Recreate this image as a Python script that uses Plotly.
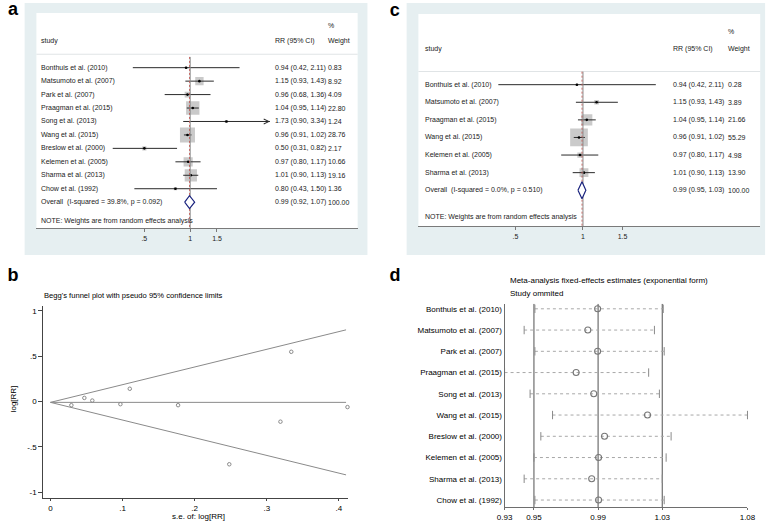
import math
import plotly.graph_objects as go

W, H = 778, 522
FONT = "Arial, 'Liberation Sans', sans-serif"

# ---------------- data ----------------
# panel a: forest plot (all studies)
studies_a = ["Bonthuis et al. (2010)", "Matsumoto et al. (2007)", "Park et al. (2007)",
             "Praagman et al. (2015)", "Song et al. (2013)", "Wang et al. (2015)",
             "Breslow et al. (2000)", "Kelemen et al. (2005)", "Sharma et al. (2013)",
             "Chow et al. (1992)"]
rr_a = [0.94, 1.15, 0.96, 1.04, 1.73, 0.96, 0.50, 0.97, 1.01, 0.80]
lo_a = [0.42, 0.93, 0.68, 0.95, 0.90, 0.91, 0.31, 0.80, 0.90, 0.43]
hi_a = [2.11, 1.43, 1.36, 1.14, 3.34, 1.02, 0.82, 1.17, 1.13, 1.50]
w_a = [0.83, 8.92, 4.09, 22.80, 1.24, 28.76, 2.17, 10.66, 19.16, 1.36]
arrow_a = [False, False, False, False, True, False, False, False, False, False]
overall_a = [0.99, 0.92, 1.07]
overall_w_a = 100.00
overall_label_a = "Overall\u00a0 (I-squared = 39.8%, p = 0.092)"

# panel c: forest plot (subset)
studies_c = ["Bonthuis et al. (2010)", "Matsumoto et al. (2007)", "Praagman et al. (2015)",
             "Wang et al. (2015)", "Kelemen et al. (2005)", "Sharma et al. (2013)"]
rr_c = [0.94, 1.15, 1.04, 0.96, 0.97, 1.01]
lo_c = [0.42, 0.93, 0.95, 0.91, 0.80, 0.90]
hi_c = [2.11, 1.43, 1.14, 1.02, 1.17, 1.13]
w_c = [0.28, 3.89, 21.66, 55.29, 4.98, 13.90]
overall_c = [0.99, 0.95, 1.03]
overall_w_c = 100.00
overall_label_c = "Overall\u00a0 (I-squared = 0.0%, p = 0.510)"

forest_ticks = [0.5, 1, 1.5]
forest_ticktext = [".5", "1", "1.5"]

# panel b: Begg's funnel plot
se_b = [0.412, 0.110, 0.177, 0.047, 0.334, 0.029, 0.248, 0.097, 0.058, 0.319]
logrr_b = [-0.062, 0.140, -0.041, 0.039, 0.548, -0.041, -0.693, -0.030, 0.010, -0.223]
funnel_se = [0.0, 0.41]
funnel_center = [-0.01, -0.01]
funnel_upper = [-0.01, 0.79]
funnel_lower = [-0.01, -0.81]
b_xticks = [0, 0.1, 0.2, 0.3, 0.4]
b_xticktext = ["0", ".1", ".2", ".3", ".4"]
b_yticks = [-1, -0.5, 0, 0.5, 1]
b_yticktext = ["-1", "-.5", "0", ".5", "1"]

# panel d: influence analysis (study omitted)
studies_d = studies_a
est_d = [0.9897, 0.9836, 0.9897, 0.9763, 0.9873, 1.0208, 0.9940, 0.9903, 0.9860, 0.9903]
lo_d = [0.9506, 0.9439, 0.9506, 0.9317, 0.9476, 0.9616, 0.9543, 0.9500, 0.9439, 0.9506]
hi_d = [1.0306, 1.0251, 1.0312, 1.0215, 1.0282, 1.0831, 1.0355, 1.0324, 1.0300, 1.0312]
overall_d = [0.95, 0.99, 1.03]
d_ticks = [0.9317, 0.95, 0.99, 1.03, 1.0831]
d_ticktext = ["0.93", "0.95", "0.99", "1.03", "1.08"]

panel_letters = ["a", "b", "c", "d"]


def px(x):
    return x / W


def py(y):
    return 1 - y / H


fig = go.Figure()
shapes = []
annotations = []

# panel backgrounds (graph region + plot region)
for (x0, y0, x1, y1) in [(17, 3, 367, 256), (407, 3, 773, 256)]:
    shapes.append(dict(type="rect", xref="paper", yref="paper", x0=px(x0), x1=px(x1),
                       y0=py(y1), y1=py(y0), fillcolor="#e6eff1", line=dict(width=0), layer="below"))
for (x0, y0, x1, y1) in [(29, 13, 357, 229), (419, 14, 768, 227)]:
    shapes.append(dict(type="rect", xref="paper", yref="paper", x0=px(x0), x1=px(x1),
                       y0=py(y1), y1=py(y0), fillcolor="white", line=dict(width=0), layer="below"))


def forest(xa, ya, studies, rr, lo, hi, w, overall, overall_w, overall_label,
           box_scale, x_study, x_rr, x_w, row_sep, row_line_top, row_pct, row_note,
           yrow_bottom, arrows=None):
    n = len(studies)
    rows = list(range(1, n + 1))
    orow = n + 1
    # header separator
    fig.add_trace(go.Scatter(x=[0.01, 100], y=[row_sep, row_sep], mode="lines",
                             line=dict(color="#e0e4e6", width=1), xaxis=xa, yaxis=ya,
                             hoverinfo="skip", showlegend=False))
    # boxes
    fig.add_trace(go.Scatter(x=rr, y=rows, mode="markers",
                             marker=dict(symbol="square", color="#b4b4b4",
                                         size=[max(2.5, box_scale * math.sqrt(v)) for v in w],
                                         line=dict(width=0)),
                             xaxis=xa, yaxis=ya, hoverinfo="skip", showlegend=False))
    # CI lines
    xs, ys = [], []
    for r, l, h in zip(rows, lo, hi):
        xs += [l, h, None]
        ys += [r, r, None]
    fig.add_trace(go.Scatter(x=xs, y=ys, mode="lines", line=dict(color="#2a2a2a", width=1),
                             xaxis=xa, yaxis=ya, hoverinfo="skip", showlegend=False))
    # point estimates
    fig.add_trace(go.Scatter(x=rr, y=rows, mode="markers",
                             marker=dict(symbol="circle", color="black", size=2.6),
                             xaxis=xa, yaxis=ya, hoverinfo="skip", showlegend=False))
    # null line and overall line
    fig.add_trace(go.Scatter(x=[1, 1], y=[row_line_top, yrow_bottom], mode="lines",
                             line=dict(color="#8a8a8a", width=1), xaxis=xa, yaxis=ya,
                             hoverinfo="skip", showlegend=False))
    fig.add_trace(go.Scatter(x=[overall[0], overall[0]], y=[row_line_top, yrow_bottom], mode="lines",
                             line=dict(color="#c0504d", width=0.8, dash="2px,2px"), xaxis=xa, yaxis=ya,
                             hoverinfo="skip", showlegend=False))
    # diamond
    fig.add_trace(go.Scatter(x=[overall[1], overall[0], overall[2], overall[0], overall[1]],
                             y=[orow, orow - 0.48, orow, orow + 0.48, orow], mode="lines",
                             line=dict(color="#1a237e", width=1.2), fill="toself", fillcolor="white",
                             xaxis=xa, yaxis=ya, hoverinfo="skip", showlegend=False))
    if arrows:
        for r, h, a in zip(rows, hi, arrows):
            if a:
                annotations.append(dict(x=math.log10(h), y=r, xref=xa, yref=ya, text="",
                                        showarrow=True, ax=-6, ay=0, arrowhead=5, arrowsize=1.0,
                                        arrowwidth=1, arrowcolor="#2a2a2a"))
    f7 = dict(family=FONT, size=7, color="#222")
    yref = ya
    # header
    annotations.append(dict(x=px(x_study), y=-1, xref="paper", yref=yref, text="study",
                            showarrow=False, xanchor="left", font=f7))
    annotations.append(dict(x=px(x_rr), y=-1, xref="paper", yref=yref, text="RR (95% CI)",
                            showarrow=False, xanchor="left", font=f7))
    annotations.append(dict(x=px(x_w), y=-1, xref="paper", yref=yref, text="Weight",
                            showarrow=False, xanchor="left", font=f7))
    annotations.append(dict(x=px(x_w), y=row_pct, xref="paper", yref=yref, text="%",
                            showarrow=False, xanchor="left", font=f7))
    for r, s, v, l, h, ww in zip(rows, studies, rr, lo, hi, w):
        annotations.append(dict(x=px(x_study), y=r, xref="paper", yref=yref, text=s,
                                showarrow=False, xanchor="left", font=f7))
        annotations.append(dict(x=px(x_rr), y=r, xref="paper", yref=yref,
                                text=f"{v:.2f} ({l:.2f}, {h:.2f})",
                                showarrow=False, xanchor="left", font=f7))
        annotations.append(dict(x=px(x_w), y=r, xref="paper", yref=yref, text=f"{ww:.2f}",
                                showarrow=False, xanchor="left", font=f7))
    annotations.append(dict(x=px(x_study), y=orow, xref="paper", yref=yref, text=overall_label,
                            showarrow=False, xanchor="left", font=f7))
    annotations.append(dict(x=px(x_rr), y=orow, xref="paper", yref=yref,
                            text=f"{overall[0]:.2f} ({overall[1]:.2f}, {overall[2]:.2f})",
                            showarrow=False, xanchor="left", font=f7))
    annotations.append(dict(x=px(x_w), y=orow, xref="paper", yref=yref, text=f"{overall_w:.2f}",
                            showarrow=False, xanchor="left", font=f7))
    annotations.append(dict(x=px(x_study), y=row_note, xref="paper", yref=yref,
                            text="NOTE: Weights are from random effects analysis",
                            showarrow=False, xanchor="left", font=f7))


forest("x", "y", studies_a, rr_a, lo_a, hi_a, w_a, overall_a, overall_w_a, overall_label_a,
       2.8, 32, 271, 325, 0.0, 0.2, -2.1, 12.4, 12.93, arrow_a)
forest("x2", "y2", studies_c, rr_c, lo_c, hi_c, w_c, overall_c, overall_w_c, overall_label_c,
       2.38, 424, 677, 733, 0.25, 0.26, -2.0, 8.5, 9.04)

# ---------------- panel b ----------------
for yy in [funnel_upper, funnel_center, funnel_lower]:
    fig.add_trace(go.Scatter(x=funnel_se, y=yy, mode="lines", line=dict(color="#8a8a8a", width=1),
                             xaxis="x3", yaxis="y3", hoverinfo="skip", showlegend=False))
fig.add_trace(go.Scatter(x=se_b, y=logrr_b, mode="markers",
                         marker=dict(symbol="circle-open", color="#8a8a8a", size=3.5, line=dict(width=1)),
                         xaxis="x3", yaxis="y3", hoverinfo="skip", showlegend=False, cliponaxis=False))

# ---------------- panel d ----------------
rows_d = list(range(1, len(studies_d) + 1))
for v in overall_d:
    fig.add_trace(go.Scatter(x=[v, v], y=[0.766, 10.33], mode="lines", line=dict(color="#6e6e6e", width=1.2),
                             xaxis="x4", yaxis="y4", hoverinfo="skip", showlegend=False))
xs, ys = [], []
for r, l, h in zip(rows_d, lo_d, hi_d):
    xs += [l, h, None]
    ys += [r, r, None]
fig.add_trace(go.Scatter(x=xs, y=ys, mode="lines", line=dict(color="#a8a8a8", width=1, dash="dot"),
                         xaxis="x4", yaxis="y4", hoverinfo="skip", showlegend=False))
fig.add_trace(go.Scatter(x=lo_d + hi_d, y=rows_d + rows_d, mode="markers",
                         marker=dict(symbol="line-ns", size=6, line=dict(color="#8a8a8a", width=1)),
                         xaxis="x4", yaxis="y4", hoverinfo="skip", showlegend=False, cliponaxis=False))
fig.add_trace(go.Scatter(x=est_d, y=rows_d, mode="markers",
                         marker=dict(symbol="circle-open", size=6, color="#777", line=dict(width=1.1)),
                         xaxis="x4", yaxis="y4", hoverinfo="skip", showlegend=False))

# ---------------- panel letters (overlay axis in figure pixels) ----------------
fig.add_trace(go.Scatter(x=[5, 5, 395, 395], y=[11, 278, 12, 278], mode="text",
                         text=[f"<b>{s}</b>" for s in panel_letters], textposition="middle center",
                         textfont=dict(family=FONT, size=18, color="black"),
                         xaxis="x5", yaxis="y5", hoverinfo="skip", showlegend=False, cliponaxis=False))

# ---------------- titles ----------------
annotations += [
    dict(x=px(35), y=py(297), xref="paper", yref="paper", xanchor="left", yanchor="middle", showarrow=False,
         text="Begg's funnel plot with pseudo 95% confidence limits", font=dict(family=FONT, size=7.6, color="black")),
    dict(x=px(6), y=py(400), xref="paper", yref="paper", xanchor="center", yanchor="middle", showarrow=False,
         text="log[RR]", textangle=-90, font=dict(family=FONT, size=8, color="black")),
    dict(x=px(195), y=py(518), xref="paper", yref="paper", xanchor="center", yanchor="middle", showarrow=False,
         text="s.e. of: log[RR]", font=dict(family=FONT, size=8, color="black")),
    dict(x=px(511), y=py(282), xref="paper", yref="paper", xanchor="left", yanchor="middle", showarrow=False,
         text="Meta-analysis fixed-effects estimates (exponential form)", font=dict(family=FONT, size=8, color="black")),
    dict(x=px(511), y=py(295), xref="paper", yref="paper", xanchor="left", yanchor="middle", showarrow=False,
         text="Study ommited", font=dict(family=FONT, size=8, color="black")),
]

tickfont7 = dict(family=FONT, size=7, color="#222")
tickfont8 = dict(family=FONT, size=8, color="black")

fig.update_layout(
    width=W, height=H, autosize=False,
    margin=dict(l=0, r=0, t=0, b=0),
    paper_bgcolor="white", plot_bgcolor="rgba(0,0,0,0)",
    showlegend=False,
    shapes=shapes, annotations=annotations,
    xaxis=dict(domain=[px(29), px(357)], anchor="y", type="log", range=[-1.010, 1.100],
               tickvals=forest_ticks, ticktext=forest_ticktext, tickfont=tickfont7,
               showline=True, linecolor="#7a7a7a", linewidth=1, ticks="outside", ticklen=3,
               tickcolor="#7a7a7a", showgrid=False, zeroline=False),
    yaxis=dict(domain=[py(229), py(13)], anchor="x", range=[12.93, -3.07], visible=False,
               showgrid=False, zeroline=False),
    xaxis2=dict(domain=[px(419), px(768)], anchor="y2", type="log", range=[-0.7327, 0.789],
                tickvals=forest_ticks, ticktext=forest_ticktext, tickfont=tickfont7,
                showline=True, linecolor="#7a7a7a", linewidth=1, ticks="outside", ticklen=3,
                tickcolor="#7a7a7a", showgrid=False, zeroline=False),
    yaxis2=dict(domain=[py(227), py(14)], anchor="x2", range=[9.04, -3.02], visible=False,
                showgrid=False, zeroline=False),
    xaxis3=dict(domain=[px(36), px(347)], anchor="y3", range=[-0.01, 0.4125],
                tickvals=b_xticks, ticktext=b_xticktext, tickfont=tickfont8,
                showline=True, linecolor="#444", linewidth=1, ticks="outside", ticklen=2,
                tickcolor="#444", showgrid=False, zeroline=False),
    yaxis3=dict(domain=[py(500), py(307)], anchor="x3", range=[-1.066, 1.055],
                tickvals=b_yticks, ticktext=b_yticktext, tickfont=tickfont8,
                showline=True, linecolor="#444", linewidth=1, ticks="outside", ticklen=4,
                tickcolor="#444", showgrid=False, zeroline=False),
    xaxis4=dict(domain=[px(507), px(755)], anchor="y4", range=[0.9317, 1.0831],
                tickvals=d_ticks, ticktext=d_ticktext, tickfont=tickfont8,
                showline=True, linecolor="#6e6e6e", linewidth=1, ticks="outside", ticklen=2,
                tickcolor="#6e6e6e", showgrid=False, zeroline=False),
    yaxis4=dict(domain=[py(509), py(305)], anchor="x4", range=[10.33, 0.766],
                tickvals=rows_d, ticktext=studies_d, tickfont=tickfont8,
                showline=True, linecolor="#6e6e6e", linewidth=1, ticks="",
                showgrid=False, zeroline=False),
    xaxis5=dict(domain=[0, 1], anchor="y5", range=[0, W], visible=False, fixedrange=True),
    yaxis5=dict(domain=[0, 1], anchor="x5", range=[H, 0], visible=False, fixedrange=True),
)

fig.write_html("out.html", config={"displayModeBar": False},
               post_script="document.body.style.margin='0px';document.body.style.overflow='hidden';")
